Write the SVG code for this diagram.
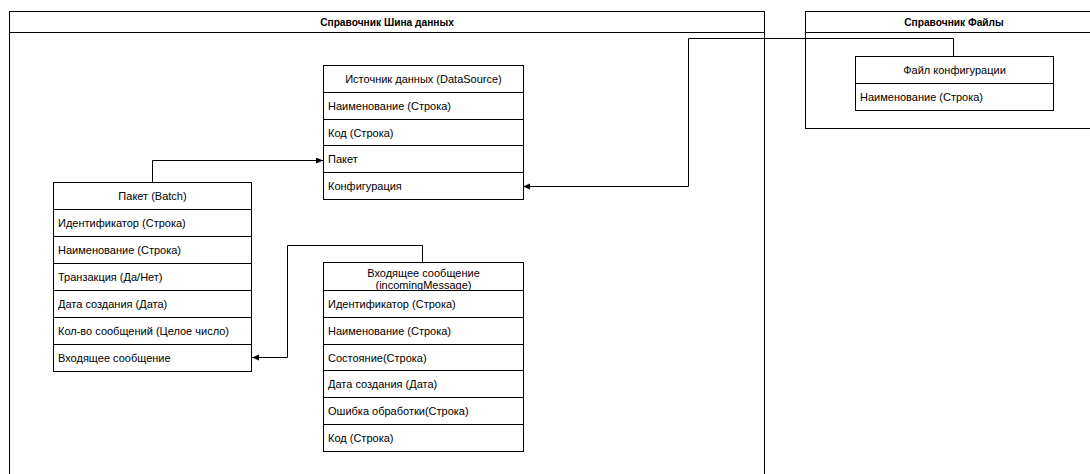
<svg xmlns="http://www.w3.org/2000/svg" width="1090" height="474" viewBox="0 0 1090 474">
<style>
.frame{fill:#fff;stroke:#000;stroke-width:1}
.ln{stroke:#000;stroke-width:1;fill:none}
.t{font-family:"Liberation Sans",Arial,sans-serif;font-size:11px;fill:#000}
.c{text-anchor:middle}
.b{font-weight:bold;font-size:10.2px}
.edge{fill:none;stroke:#000;stroke-width:1}
</style>
<defs>
<marker id="arr" markerUnits="userSpaceOnUse" markerWidth="9" markerHeight="8" refX="7" refY="3" orient="auto">
<path d="M0,0 L7,3 L0,6 z" fill="#000"/>
</marker>
</defs>
<rect width="1090" height="474" fill="#fff"/>
<g id="container-bus">
<rect class="frame" x="9.5" y="11.5" width="755" height="480"/>
<line class="ln" x1="9.5" y1="32.5" x2="764.5" y2="32.5"/>
<text class="t c b" x="387" y="25.5">Справочник Шина данных</text>
</g>
<g id="container-files">
<rect class="frame" x="805.5" y="11.5" width="298" height="117"/>
<line class="ln" x1="805.5" y1="32.5" x2="1103.5" y2="32.5"/>
<text class="t c b" x="954" y="25.5">Справочник Файлы</text>
</g>
<g id="connectors">
<path class="edge" d="M152.5,182 V160.5 H323" marker-end="url(#arr)"/>
<path class="edge" d="M422.5,262 V245.5 H287.5 V357.5 H252" marker-end="url(#arr)"/>
<path class="edge" d="M953.5,56 V38.5 H688.5 V186.5 H523" marker-end="url(#arr)"/>
</g>
<g id="datasource">
<rect class="frame" x="323.5" y="65.5" width="200" height="134"/>
<line class="ln" x1="323.5" y1="92.5" x2="523.5" y2="92.5"/>
<line class="ln" x1="323.5" y1="119.5" x2="523.5" y2="119.5"/>
<line class="ln" x1="323.5" y1="145.5" x2="523.5" y2="145.5"/>
<line class="ln" x1="323.5" y1="172.5" x2="523.5" y2="172.5"/>
<text class="t c" x="423.5" y="83">Источник данных (DataSource)</text>
<text class="t" x="328" y="110">Наименование (Строка)</text>
<text class="t" x="328" y="136.5">Код (Строка)</text>
<text class="t" x="328" y="163">Пакет</text>
<text class="t" x="328" y="190">Конфигурация</text>
</g>
<g id="batch">
<rect class="frame" x="53.5" y="182.5" width="198" height="189"/>
<line class="ln" x1="53.5" y1="209.5" x2="251.5" y2="209.5"/>
<line class="ln" x1="53.5" y1="236.5" x2="251.5" y2="236.5"/>
<line class="ln" x1="53.5" y1="263.5" x2="251.5" y2="263.5"/>
<line class="ln" x1="53.5" y1="290.5" x2="251.5" y2="290.5"/>
<line class="ln" x1="53.5" y1="317.5" x2="251.5" y2="317.5"/>
<line class="ln" x1="53.5" y1="344.5" x2="251.5" y2="344.5"/>
<text class="t c" x="152.5" y="200">Пакет (Batch)</text>
<text class="t" x="58" y="227">Идентификатор (Строка)</text>
<text class="t" x="58" y="254">Наименование (Строка)</text>
<text class="t" x="58" y="281">Транзакция (Да/Нет)</text>
<text class="t" x="58" y="308">Дата создания (Дата)</text>
<text class="t" x="58" y="335">Кол-во сообщений (Целое число)</text>
<text class="t" x="58" y="362">Входящее сообщение</text>
</g>
<g id="incoming">
<rect class="frame" x="323.5" y="262.5" width="200" height="189"/>
<line class="ln" x1="323.5" y1="290.5" x2="523.5" y2="290.5"/>
<line class="ln" x1="323.5" y1="317.5" x2="523.5" y2="317.5"/>
<line class="ln" x1="323.5" y1="344.5" x2="523.5" y2="344.5"/>
<line class="ln" x1="323.5" y1="370.5" x2="523.5" y2="370.5"/>
<line class="ln" x1="323.5" y1="397.5" x2="523.5" y2="397.5"/>
<line class="ln" x1="323.5" y1="424.5" x2="523.5" y2="424.5"/>
<text class="t c" x="423.5" y="276.5">Входящее сообщение</text>
<text class="t c" x="423.5" y="289">(incomingMessage)</text>
<text class="t" x="328" y="308">Идентификатор (Строка)</text>
<text class="t" x="328" y="335">Наименование (Строка)</text>
<text class="t" x="328" y="361.5">Состояние(Строка)</text>
<text class="t" x="328" y="388">Дата создания (Дата)</text>
<text class="t" x="328" y="415">Ошибка обработки(Строка)</text>
<text class="t" x="328" y="442">Код (Строка)</text>
</g>
<g id="config-file">
<rect class="frame" x="855.5" y="56.5" width="198" height="54"/>
<line class="ln" x1="855.5" y1="83.5" x2="1053.5" y2="83.5"/>
<text class="t c" x="954.5" y="74">Файл конфигурации</text>
<text class="t" x="860" y="101">Наименование (Строка)</text>
</g>
</svg>
